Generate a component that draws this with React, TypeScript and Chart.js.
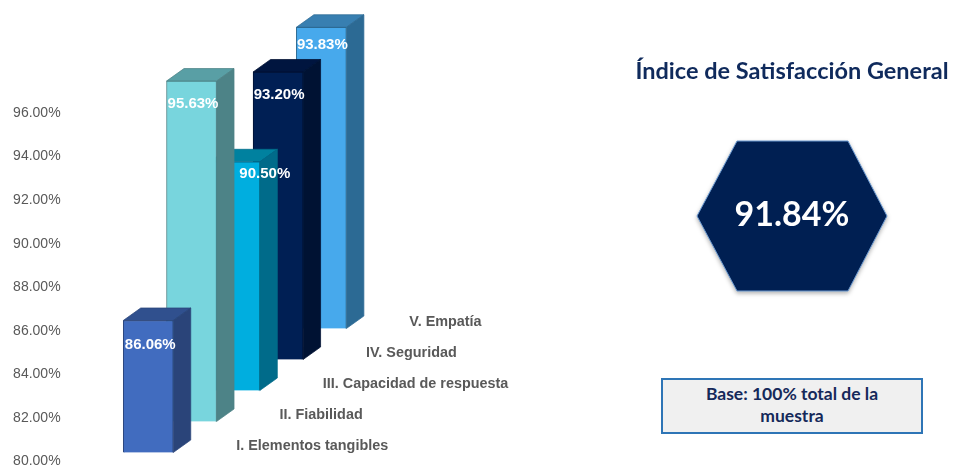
import React, { useEffect, useRef } from "react";
import { Chart, registerables } from "chart.js";

Chart.register(...registerables);

const categories = [
  "I. Elementos tangibles",
  "II. Fiabilidad",
  "III. Capacidad de respuesta",
  "IV. Seguridad",
  "V. Empatía",
];
const values = [86.06, 95.63, 90.5, 93.2, 93.83];
const yTicks = { min: 80, max: 96, step: 2 };
const overallIndex = "91.84%";
const titleText = "Índice de Satisfacción General";
const baseText = "Base: 100% total de la muestra";

const frontColors = ["#416CBF", "#78D5DD", "#00AEDF", "#001F54", "#47A9EC"];
const sideColors = ["#2A4479", "#4D8387", "#006B8A", "#001233", "#2C6A94"];
const topColors = ["#30508E", "#599FA5", "#00819F", "#00153F", "#387FB1"];
const labelNudgeX = [2, 1.5, 30, 1, 1];
const labelNudgeY = [24, 22.5, 12, 23, 17.5];

const DEPTH_X = 17.5;
const DEPTH_Y = 12.5;
const ROW_RISE = 31;
const FRONT_RISE = 9;
const FONT = '"Liberation Sans", Arial, sans-serif';
const LATO = 'Lato, "Open Sans", sans-serif';

const poly = (ctx: CanvasRenderingContext2D, pts: number[][], fill: string, stroke: string) => {
  ctx.beginPath();
  pts.forEach(([x, y], i) => (i ? ctx.lineTo(x, y) : ctx.moveTo(x, y)));
  ctx.closePath();
  ctx.fillStyle = fill;
  ctx.fill();
  ctx.lineWidth = 0.75;
  ctx.strokeStyle = stroke;
  ctx.stroke();
};

const depthPlugin = {
  id: "depth3d",
  afterDatasetsUpdate(chart: any) {
    chart.data.datasets.forEach((_: any, i: number) => {
      const el = chart.getDatasetMeta(i).data[i];
      const rise = FRONT_RISE + ROW_RISE * i;
      el.y -= rise;
      el.base -= rise;
    });
  },
  beforeDatasetDraw(chart: any, args: any) {
    const i = args.index;
    const el = args.meta.data[i];
    const ctx = chart.ctx;
    const l = el.x - el.width / 2;
    const r = el.x + el.width / 2;
    ctx.save();
    poly(ctx, [[l, el.y], [l + DEPTH_X, el.y - DEPTH_Y], [r + DEPTH_X, el.y - DEPTH_Y], [r, el.y]], topColors[i], sideColors[i]);
    poly(ctx, [[r, el.y], [r + DEPTH_X, el.y - DEPTH_Y], [r + DEPTH_X, el.base - DEPTH_Y], [r, el.base]], sideColors[i], sideColors[i]);
    ctx.restore();
  },
  afterDatasetsDraw(chart: any) {
    const ctx = chart.ctx;
    ctx.save();
    ctx.textBaseline = "middle";
    categories.forEach((name, i) => {
      const el = chart.getDatasetMeta(i).data[i];
      ctx.textAlign = "center";
      ctx.fillStyle = "#FFFFFF";
      ctx.font = `bold 15px ${FONT}`;
      ctx.fillText(values[i].toFixed(2) + "%", el.x + labelNudgeX[i], el.y + labelNudgeY[i]);
      ctx.textAlign = "left";
      ctx.fillStyle = "#595959";
      ctx.font = `bold 14.4px ${FONT}`;
      ctx.fillText(name, el.x + 88, el.base - 6);
    });
    ctx.restore();
  },
};

export default function App() {
  const ref = useRef<HTMLCanvasElement>(null);
  useEffect(() => {
    const chart = new Chart(ref.current!, {
      type: "bar",
      data: {
        labels: categories,
        datasets: values.map((v, i) => ({
          label: categories[i],
          data: values.map((_, j) => (j === i ? v : null)),
          base: yTicks.min,
          backgroundColor: frontColors[i],
          borderColor: sideColors[i],
          borderWidth: 1,
          barThickness: 50,
          grouped: false,
          clip: false,
        })),
      } as any,
      options: {
        responsive: false,
        animation: false,
        layout: { padding: { left: 0, right: 610, top: 113, bottom: 4.5 } },
        plugins: { legend: { display: false }, tooltip: { enabled: false } },
        scales: {
          x: { display: false, offset: true, grid: { display: false } },
          y: {
            min: yTicks.min,
            max: yTicks.max,
            grid: { display: false, drawTicks: false },
            border: { display: false },
            afterFit: (s: any) => {
              s.width = 126.6;
              s.paddingTop = 0;
              s.paddingBottom = 0;
            },
            ticks: {
              stepSize: yTicks.step,
              padding: 66,
              color: "#595959",
              font: { family: FONT, size: 14 },
              callback: (v: any) => Number(v).toFixed(2) + "%",
            },
          },
        },
      } as any,
      plugins: [depthPlugin],
    });
    return () => chart.destroy();
  }, []);

  return (
    <div style={{ position: "absolute", left: 0, top: 0, width: 953, height: 466, overflow: "hidden", background: "#fff" }}>
      <canvas ref={ref} width={953} height={466} style={{ position: "absolute", left: 0, top: 0 }} />
      <div
        style={{
          position: "absolute", left: 592, width: 400, top: 56, textAlign: "center",
          font: `bold 23.5px ${LATO}`, color: "#0F2A5C", whiteSpace: "nowrap", lineHeight: "28px",
        }}
      >
        {titleText}
      </div>
      <svg width={953} height={466} style={{ position: "absolute", left: 0, top: 0, pointerEvents: "none" }}>
        <polygon
          points="697,216 737,141 848,141 887,216 848,291 737,291"
          fill="#001F52"
          stroke="#6C9BD2"
          strokeWidth={1}
          style={{ filter: "drop-shadow(0 2px 2px rgba(0,0,0,0.3))" }}
        />
      </svg>
      <div
        style={{
          position: "absolute", left: 697, width: 190, top: 191, textAlign: "center",
          font: `bold 34px ${LATO}`, color: "#fff", lineHeight: "44px",
        }}
      >
        {overallIndex}
      </div>
      <div
        style={{
          position: "absolute", left: 661, top: 378, width: 262, height: 56, boxSizing: "border-box",
          border: "2px solid #2E75B6", background: "#F0F0F0", textAlign: "center", padding: "3px 30px 0",
          font: `bold 17.5px ${LATO}`, color: "#15295A", lineHeight: "22px",
        }}
      >
        {baseText}
      </div>
    </div>
  );
}
